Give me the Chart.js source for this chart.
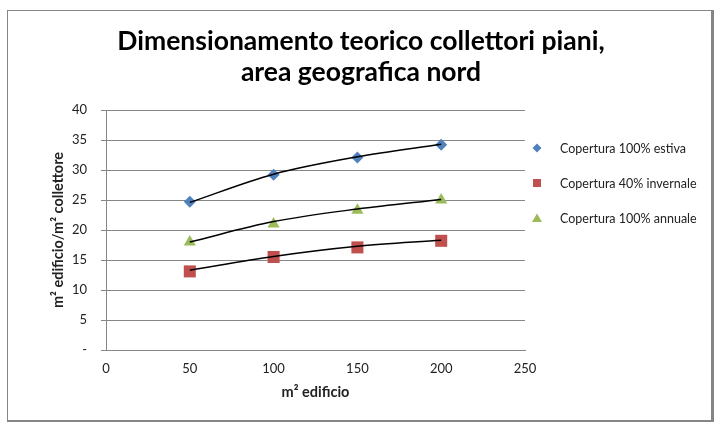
<!DOCTYPE html>
<html>
<head>
<meta charset="utf-8">
<script src="https://cdn.jsdelivr.net/npm/chart.js@4/dist/chart.umd.min.js"></script>
<style>
html,body{margin:0;padding:0;background:#fff;}
#wrap{position:relative;width:724px;height:431px;}
</style>
</head>
<body>
<div id="wrap"><canvas id="c" width="724" height="431"></canvas></div>
<script>
// ---- data ----
const titleLines = ['Dimensionamento teorico collettori piani,', 'area geografica nord'];
const xTitle = 'm² edificio';
const yTitle = 'm² edificio/m² collettore';
const xValues = [50, 100, 150, 200];
const estiva = [24.7, 29.2, 32.1, 34.2];
const invernale = [13.1, 15.5, 17.1, 18.2];
const annuale = [18.0, 21.0, 23.3, 25.0];
const trendEstiva = [24.6, 29.3, 32.2, 34.3];
const trendInvernale = [13.3, 15.6, 17.3, 18.3];
const trendAnnuale = [18.0, 21.4, 23.5, 25.1];
const seriesLabels = ['Copertura 100% estiva', 'Copertura 40% invernale', 'Copertura 100% annuale'];
const xTickValues = [0, 50, 100, 150, 200, 250];
const yTickLabels = ['-', '5', '10', '15', '20', '25', '30', '35', '40'];

const FONT = 'Lato';
const pts = arr => arr.map((v, i) => ({x: xValues[i], y: v}));

const frame = {
  id: 'frame',
  beforeDraw(chart) {
    const ctx = chart.ctx;
    ctx.save();
    ctx.fillStyle = '#fff';
    ctx.fillRect(0, 0, chart.width, chart.height);
    ctx.fillStyle = '#868686';
    ctx.fillRect(7, 10, 705, 1);     // top
    ctx.fillRect(7, 10, 1, 411);     // left
    ctx.fillRect(711, 10, 3, 412);   // right (shadow)
    ctx.fillRect(7, 420, 707, 2);    // bottom (shadow)
    ctx.restore();
  },
  afterLayout(chart) {
    const t = chart.titleBlock;
    if (t) { t.left = 0; t.right = 722; t.width = 722; }
  },
  afterDraw(chart) {
    const ctx = chart.ctx;
    ctx.save();
    const mx = 537, tx = 560, y0 = 148, dy = 35;
    ctx.font = '12.5px ' + FONT;
    ctx.textBaseline = 'middle';
    ctx.textAlign = 'left';
    for (let i = 0; i < 3; i++) {
      const ds = chart.data.datasets[i];
      const y = y0 + i * dy;
      ctx.fillStyle = ds.backgroundColor;
      ctx.beginPath();
      if (ds.pointStyle === 'rectRot') {
        ctx.moveTo(mx, y - 4.5); ctx.lineTo(mx + 4.5, y); ctx.lineTo(mx, y + 4.5); ctx.lineTo(mx - 4.5, y);
      } else if (ds.pointStyle === 'rect') {
        ctx.rect(mx - 4, y - 4, 8, 8);
      } else {
        ctx.moveTo(mx, y - 4.5); ctx.lineTo(mx + 5, y + 4); ctx.lineTo(mx - 5, y + 4);
      }
      ctx.closePath();
      ctx.fill();
      ctx.fillStyle = '#222';
      ctx.fillText(ds.label, tx, y + 0.5);
    }
    ctx.restore();
  }
};

const trendStyle = {
  showLine: true, borderColor: '#000', borderWidth: 1.5, pointRadius: 0,
  cubicInterpolationMode: 'monotone', fill: false, order: 0
};

new Chart(document.getElementById('c'), {
  type: 'scatter',
  data: {
    datasets: [
      {label: seriesLabels[0], data: pts(estiva), pointStyle: 'rectRot', pointRadius: 6, pointHoverRadius: 6,
       backgroundColor: '#4F81BD', borderColor: '#4F81BD', borderWidth: 0, order: 1},
      {label: seriesLabels[1], data: pts(invernale), pointStyle: 'rect', pointRadius: 8.5, pointHoverRadius: 8.5,
       backgroundColor: '#C0504D', borderColor: '#C0504D', borderWidth: 0, order: 1},
      {label: seriesLabels[2], data: pts(annuale), pointStyle: 'triangle', pointRadius: 7, pointHoverRadius: 7,
       backgroundColor: '#9BBB59', borderColor: '#9BBB59', borderWidth: 0, order: 1},
      Object.assign({label: 'trend1', data: pts(trendEstiva)}, trendStyle),
      Object.assign({label: 'trend2', data: pts(trendInvernale)}, trendStyle),
      Object.assign({label: 'trend3', data: pts(trendAnnuale)}, trendStyle)
    ]
  },
  options: {
    responsive: false,
    animation: false,
    layout: {padding: {left: 50, right: 199, top: 0, bottom: 30}},
    plugins: {
      legend: {display: false},
      tooltip: {enabled: false},
      title: {
        display: true, text: titleLines, color: '#000',
        font: {family: FONT, size: 26.5, weight: 'bold', lineHeight: '31px'},
        padding: {top: 26, bottom: 22}
      }
    },
    scales: {
      x: {
        type: 'linear', min: 0, max: 250,
        afterBuildTicks: s => { s.ticks = xTickValues.map(v => ({value: v})); },
        afterFit: s => { s.height = 51; },
        grid: {display: false, drawTicks: false},
        border: {display: true, color: '#868686'},
        ticks: {color: '#222', font: {family: FONT, size: 13}, padding: 11, maxRotation: 0},
        title: {display: true, text: xTitle, color: '#222', font: {family: FONT, size: 14.5, weight: 'bold'}, padding: 0}
      },
      y: {
        type: 'linear', min: 0, max: 40,
        ticks: {stepSize: 5, color: '#222', font: {family: FONT, size: 13}, padding: 14,
                callback: (v) => yTickLabels[Math.round(v / 5)]},
        afterFit: s => { s.width = 56; },
        grid: {color: '#868686', lineWidth: 1, drawTicks: true, tickLength: 5},
        border: {display: true, color: '#868686'},
        title: {display: true, text: yTitle, color: '#222', font: {family: FONT, size: 14.5, weight: 'bold'}, padding: 0}
      }
    }
  },
  plugins: [frame]
});
</script>
</body>
</html>
